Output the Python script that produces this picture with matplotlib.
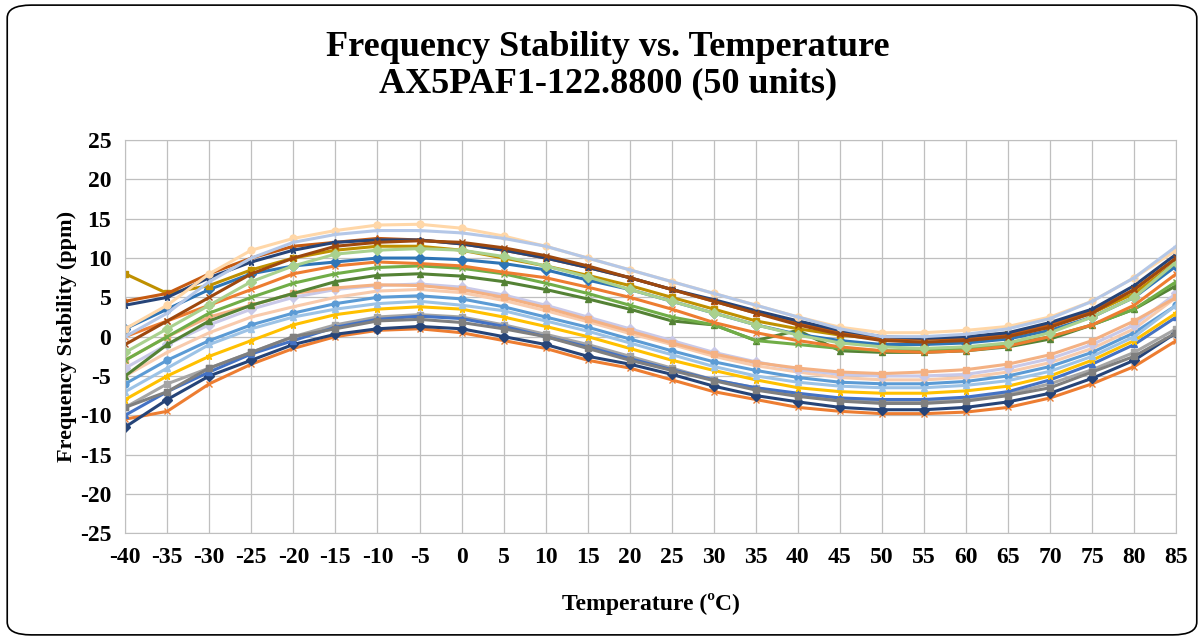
import matplotlib
matplotlib.use("Agg")
import matplotlib.pyplot as plt
from matplotlib.patches import FancyBboxPatch

# Temperature points (deg C)
TEMPS = list(range(-40, 90, 5))

# Frequency deviation per unit (ppm)
UNITS = {
    "u01": [-10.5,-9.5,-6,-3.5,-1.5,0,0.8,1,0.5,-0.5,-1.5,-3,-4,-5.5,-7,-8,-9,-9.5,-9.8,-9.8,-9.6,-9,-7.8,-6,-3.8,-0.5],
    "u02": [-11.5,-8,-5,-3,-1,0.3,1,1.3,1,0,-1,-2.5,-3.5,-4.8,-6.3,-7.5,-8.3,-9,-9.3,-9.3,-9,-8.3,-7.2,-5.3,-3,0.5],
    "u03": [-9,-6,-4,-2,0,1.5,2.5,2.8,2.5,1.5,0.3,-1,-2.5,-4,-5.5,-6.5,-7.5,-8,-8.3,-8.2,-8,-7.3,-6,-4.2,-2,1],
    "u04": [-10,-7,-4.5,-2.2,-0.5,1.2,2.2,2.6,2.3,1.3,0,-1.3,-2.8,-4.2,-5.5,-6.5,-7.2,-7.8,-8,-8,-7.7,-7,-5.5,-3.5,-1,2.5],
    "u05": [-8,-5,-2.5,-0.5,1.5,2.8,3.5,3.8,3.5,2.5,1.3,0,-1.5,-3,-4.3,-5.5,-6.5,-7,-7.2,-7.2,-6.9,-6.3,-5,-3,-0.5,3],
    "u06": [-6,-3,-0.5,1.5,3,4.2,5,5.2,4.8,3.8,2.5,1.2,-0.3,-1.8,-3.2,-4.3,-5.2,-5.8,-6,-6,-5.7,-5,-3.8,-2,0.5,4],
    "u07": [-5,-2,0.5,2.5,3.8,5,5.8,6,5.6,4.6,3.3,1.9,0.4,-1,-2.5,-3.7,-4.5,-5.2,-5.5,-5.5,-5.2,-4.5,-3.3,-1.5,1,5],
    "u08": [-4,-1,1.5,3.5,5,6,6.5,6.7,6.3,5.3,4,2.5,1,-0.5,-2,-3.2,-4.2,-4.8,-5,-5,-4.8,-4,-2.8,-1,1.5,5.5],
    "u09": [-3,0,2.5,4,5.5,6.2,6.6,6.5,6,5,3.7,2.2,0.7,-0.8,-2.2,-3.3,-4,-4.5,-4.7,-4.5,-4.2,-3.5,-2.3,-0.5,2,5],
    "u10": [-5,-1,2,4,5.5,7,7.8,8,7.7,7,6,4.8,3.5,2,1.5,-0.5,0.8,-1.8,-2,-2,-1.8,-1.3,-0.3,1.5,3.5,6.5],
    "u11": [-3,0,3,5,6.8,8,8.8,9,8.7,8,6.8,5.5,4,2.5,1.5,-0.5,-1,-1.5,-1.8,-1.8,-1.5,-1,0,1.5,3.5,7],
    "u12": [0,2,4,6,8,9,9.5,9.3,9,8.2,7.5,6.3,5,3.5,1.8,0.5,-0.5,-1.3,-1.8,-2,-1.8,-1.2,0,1.5,4,8],
    "u13": [1,3.5,6,8,9,9.5,10,10,9.8,9.3,8.5,7.2,6,4.5,3,1.5,0.3,-0.5,-1,-1,-0.8,-0.3,0.8,2.5,5,9],
    "u14": [8,5.5,6.5,8.5,10,11,11.5,11.5,11,10,9,7.8,6.5,5,3.5,2,1,0.2,-0.3,-0.3,-0.2,0.3,1.3,3,5.5,9.5],
    "u15": [4.5,5.5,8,10,11.5,12,12.5,12.3,11.8,11,10,8.8,7.5,6,4.5,3,1.8,0.5,-0.2,-0.3,-0.2,0.3,1.5,3.2,6,10],
    "u16": [4,5,7.5,9.5,11,12,12.3,12.3,11.8,11,10,8.8,7.5,6,4.7,3.3,2,0.8,0,-0.2,0,0.5,1.8,3.5,6.5,10.5],
    "u17": [1,4,8,11,12.5,13.5,14.2,14.3,13.8,12.8,11.5,10,8.5,7,5.5,4,2.5,1.2,0.5,0.5,0.8,1.3,2.5,4.5,7.5,11],
    "u18": [0,3,7,10,12,13,13.5,13.5,13.2,12.5,11.5,10,8.5,7,5.5,4,2.5,1,0,0,0.3,1,2.3,4.5,7.5,11.5],
    "u19": [-2,1,4,7,9,10.5,11,11.2,11,10.2,9,7.6,6,4.5,3,1.5,0.2,-0.8,-1.3,-1.5,-1.3,-0.8,0.5,2.5,5,9.5],
    "u20": [-9,-7,-4,-2,0,1,2,2.2,1.8,1,0,-1.5,-3,-4.3,-5.6,-6.8,-7.6,-8.2,-8.5,-8.5,-8.2,-7.5,-6.5,-4.5,-2.5,0.5],
    "u21": [-7,-4,-1,1,2.5,3.5,4.2,4.5,4,3.3,2,0.7,-0.8,-2.3,-3.8,-5,-5.8,-6.3,-6.5,-6.5,-6.2,-5.6,-4.4,-2.5,0,4],
    "u22": [-1,2,5,8,10,11.5,12,12.2,12,11.3,10.3,9,7.5,6,4.5,3,1.5,0.3,-0.5,-0.7,-0.5,0,1.2,3,6,10],
}

COLORS = {
    "u01": "#ED7D31", "u02": "#264478", "u03": "#A5A5A5", "u04": "#4472C4",
    "u05": "#FFC000", "u06": "#5B9BD5", "u07": "#F8CBAD", "u08": "#C9C9E8",
    "u09": "#F4B183", "u10": "#548235", "u11": "#70AD47", "u12": "#ED7D31",
    "u13": "#2E75B6", "u14": "#BF9000", "u15": "#C55A11", "u16": "#264478",
    "u17": "#FFD7A8", "u18": "#B4C7E7", "u19": "#A9D18E", "u20": "#7F7F7F",
    "u21": "#9DC3E6", "u22": "#9E480E",
}
MARKERS = ["x", "D", "s", "^", "*", "o", "+", "D", "s", "^", "x"]

plt.rcParams["font.family"] = ["Liberation Serif", "DejaVu Serif"]
plt.rcParams["axes.unicode_minus"] = False

fig = plt.figure(figsize=(12.04, 6.4), dpi=100)
fig.patches.append(FancyBboxPatch((0.006, 0.008), 0.988, 0.984,
                                  boxstyle="round,pad=0,rounding_size=0.02",
                                  transform=fig.transFigure, fill=False,
                                  edgecolor="black", linewidth=1.2))
ax = fig.add_axes([0.104, 0.167, 0.873, 0.614])

for i, (name, vals) in enumerate(UNITS.items()):
    ax.plot(TEMPS, vals, color=COLORS[name], marker=MARKERS[i % len(MARKERS)],
            markersize=5, linewidth=2.2)

ax.set_xlim(-40, 85)
ax.set_ylim(-25, 25)
ax.set_xticks(TEMPS)
ax.set_yticks(range(-25, 30, 5))
ax.grid(True, color="#BFBFBF", linewidth=0.9)
ax.set_axisbelow(True)
for s in ax.spines.values():
    s.set_color("#BFBFBF")
ax.tick_params(length=0, labelsize=17, pad=10)
for lab in ax.get_xticklabels() + ax.get_yticklabels():
    lab.set_fontweight("bold")
ax.set_xlabel("Temperature (ºC)", fontsize=17, fontweight="bold", labelpad=18)
ax.set_ylabel("Frequency Stability (ppm)", fontsize=16, fontweight="bold", labelpad=2)
fig.text(0.505, 0.897, "Frequency Stability vs. Temperature\nAX5PAF1-122.8800 (50 units)",
         ha="center", va="center", fontsize=26, fontweight="bold", linespacing=1.15)

fig.savefig("out.png", dpi=100)
